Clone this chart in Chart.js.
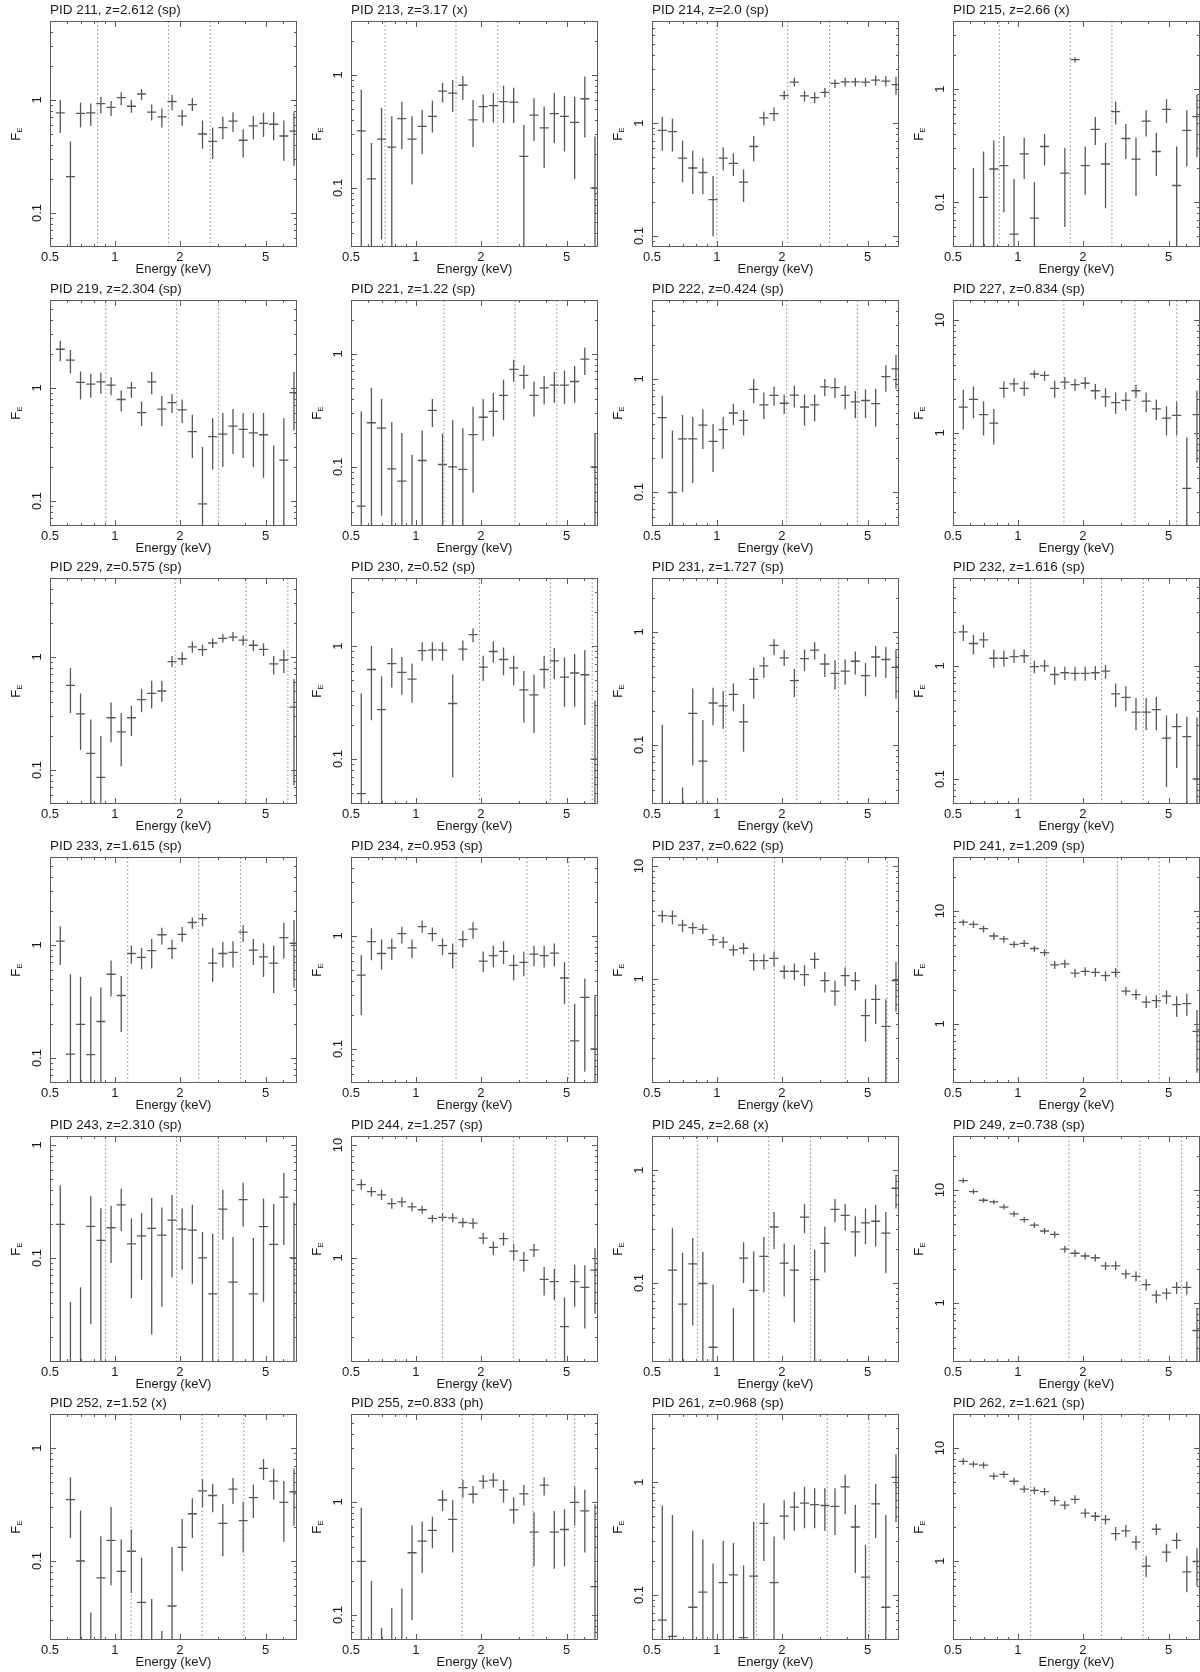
<!DOCTYPE html>
<html>
<head>
<meta charset="utf-8">
<title>X-ray spectra</title>
<script src="https://cdn.jsdelivr.net/npm/chart.js@4.4.0/dist/chart.umd.min.js"></script>
<style>
  body { margin: 0; background: #fff; }
  #grid { position: relative; width: 1200px; height: 1672px; overflow: hidden; }
  #grid canvas { position: absolute; }
</style>
</head>
<body>
<div id="grid"></div>
<script>
// bin centres (keV), shared by every panel
const energies = [0.558, 0.622, 0.693, 0.773, 0.861, 0.960, 1.070, 1.193, 1.330, 1.482, 1.652, 1.842,
  2.053, 2.288, 2.551, 2.843, 3.170, 3.533, 3.938, 4.390, 4.894, 5.455, 6.081, 6.778];
const binHalfWidthDex = 0.021;

const xMin = 0.5, xMax = 7;
const xTickValues = [0.5, 0.6, 0.7, 0.8, 0.9, 1, 2, 3, 4, 5, 6, 7];
const xLabelValues = [0.5, 1, 2, 5];

const pids = [211, 213, 214, 215, 219, 221, 222, 227, 229, 230, 231, 232,
  233, 234, 237, 241, 243, 244, 245, 249, 252, 255, 261, 262];
const redshifts = ['2.612', '3.17', '2.0', '2.66', '2.304', '1.22', '0.424', '0.834', '0.575', '0.52', '1.727', '1.616',
  '1.615', '0.953', '0.622', '1.209', '2.310', '1.257', '2.68', '0.738', '1.52', '0.833', '0.968', '1.621'];
const zMethods = ['sp', 'x', 'sp', 'x', 'sp', 'sp', 'sp', 'sp', 'sp', 'sp', 'sp', 'sp',
  'sp', 'sp', 'sp', 'sp', 'sp', 'sp', 'x', 'sp', 'x', 'ph', 'sp', 'sp'];
const yMins = [0.05, 0.03, 0.08, 0.04, 0.06, 0.03, 0.05, 0.15, 0.05, 0.04, 0.03, 0.06,
  0.06, 0.05, 0.12, 0.3, 0.012, 0.12, 0.02, 0.3, 0.02, 0.06, 0.04, 0.2];
const yMaxs = [5, 3, 8, 4, 6, 3, 5, 15, 5, 4, 3, 6,
  6, 5, 12, 30, 1.2, 12, 2, 30, 2, 6, 4, 20];

// dotted lines: 3, 6.4 and 10 keV in the rest frame
const bandLines = [
  [0.831, 1.772, 2.769], [0.719, 1.535, 2.398], [1.0, 2.133, 3.333], [0.820, 1.749, 2.732],
  [0.908, 1.937, 3.027], [1.351, 2.883, 4.505], [2.107, 4.494, 7.022], [1.636, 3.490, 5.453],
  [1.905, 4.063, 6.349], [1.974, 4.211, 6.579], [1.100, 2.347, 3.667], [1.147, 2.446, 3.823],
  [1.147, 2.447, 3.824], [1.536, 3.277, 5.120], [1.850, 3.946, 6.165], [1.358, 2.897, 4.527],
  [0.906, 1.934, 3.021], [1.329, 2.836, 4.431], [0.815, 1.739, 2.717], [1.726, 3.682, 5.754],
  [1.190, 2.540, 3.968], [1.637, 3.492, 5.456], [1.524, 3.252, 5.081], [1.145, 2.442, 3.815]
];

// F_E per bin: [value, lower, upper]; 0.001 = below the plotted range
const fe211 = [[0.77,0.51,1.0],[0.21,0.001,0.43],[0.76,0.57,0.95],[0.77,0.59,0.93],[0.93,0.76,1.07],[0.86,0.72,0.98],
  [1.05,0.90,1.17],[0.88,0.77,1.0],[1.13,1.0,1.25],[0.78,0.66,0.91],[0.71,0.57,0.84],[0.97,0.81,1.11],
  [0.72,0.59,0.82],[0.91,0.80,1.04],[0.50,0.37,0.66],[0.43,0.30,0.57],[0.57,0.45,0.71],[0.65,0.52,0.78],
  [0.44,0.31,0.55],[0.59,0.45,0.72],[0.62,0.47,0.77],[0.61,0.44,0.78],[0.48,0.29,0.66],[0.53,0.26,0.78]];
const fe213 = [[0.32,0.001,0.74],[0.12,0.001,0.25],[0.27,0.035,0.51],[0.23,0.001,0.43],[0.41,0.22,0.58],[0.27,0.107,0.43],
  [0.35,0.20,0.49],[0.43,0.31,0.59],[0.72,0.57,0.85],[0.69,0.47,0.90],[0.81,0.60,0.98],[0.40,0.23,0.60],
  [0.525,0.38,0.67],[0.535,0.38,0.69],[0.58,0.376,0.80],[0.575,0.376,0.77],[0.19,0.001,0.36],[0.44,0.26,0.62],
  [0.34,0.15,0.525],[0.455,0.25,0.69],[0.43,0.21,0.65],[0.38,0.12,0.64],[0.615,0.28,0.97],[0.1,0.001,0.285]];
const fe214 = [[0.86,0.57,1.13],[0.84,0.56,1.09],[0.49,0.30,0.70],[0.40,0.235,0.57],[0.365,0.235,0.49],[0.21,0.099,0.34],
  [0.49,0.38,0.61],[0.44,0.34,0.54],[0.30,0.20,0.39],[0.62,0.46,0.77],[1.11,0.95,1.26],[1.21,1.04,1.37],
  [1.75,1.60,1.93],[2.30,2.11,2.52],[1.74,1.55,1.93],[1.68,1.50,1.87],[1.87,1.68,2.04],[2.24,2.04,2.43],
  [2.31,2.11,2.52],[2.31,2.11,2.52],[2.30,2.09,2.52],[2.40,2.15,2.64],[2.35,2.11,2.60],[2.19,1.78,2.57]];
const fe215 = [null,[0.001,0.001,0.2],[0.11,0.001,0.28],[0.196,0.001,0.35],[0.21,0.081,0.385],[0.052,0.001,0.16],
  [0.267,0.16,0.37],[0.072,0.001,0.15],[0.31,0.21,0.40],null,[0.18,0.06,0.30],[1.82,1.72,1.91],
  [0.21,0.116,0.31],[0.44,0.32,0.565],[0.217,0.088,0.335],[0.63,0.485,0.77],[0.365,0.24,0.49],[0.24,0.113,0.37],
  [0.52,0.38,0.65],[0.28,0.17,0.41],[0.66,0.50,0.81],[0.14,0.001,0.31],[0.43,0.206,0.65],[0.57,0.25,0.89]];
const fe219 = [[2.2,1.72,2.62],[1.76,1.35,2.17],[1.12,0.79,1.40],[1.08,0.82,1.33],[1.13,0.89,1.36],[1.06,0.86,1.24],
  [0.79,0.62,0.95],[1.0,0.82,1.13],[0.605,0.46,0.76],[1.13,0.88,1.38],[0.65,0.46,0.85],[0.74,0.60,0.88],
  [0.64,0.49,0.79],[0.41,0.24,0.58],[0.094,0.001,0.30],[0.37,0.19,0.54],[0.39,0.20,0.60],[0.46,0.26,0.65],
  [0.43,0.24,0.60],[0.40,0.20,0.60],[0.385,0.16,0.60],[0.001,0.001,0.31],[0.23,0.001,0.54],[0.91,0.42,1.38]];
const fe221 = [[0.045,0.001,0.31],[0.246,0.001,0.50],[0.22,0.037,0.40],[0.096,0.001,0.25],[0.075,0.001,0.20],[0.001,0.001,0.128],
  [0.114,0.001,0.21],[0.316,0.226,0.40],[0.105,0.001,0.197],[0.10,0.001,0.26],[0.095,0.001,0.22],[0.193,0.059,0.34],
  [0.275,0.17,0.40],[0.31,0.186,0.45],[0.43,0.26,0.59],[0.73,0.57,0.89],[0.645,0.49,0.79],[0.43,0.28,0.57],
  [0.50,0.356,0.635],[0.53,0.37,0.69],[0.53,0.36,0.715],[0.57,0.37,0.78],[0.90,0.65,1.14],[0.10,0.001,0.20]];
const fe222 = [[0.455,0.198,0.71],[0.099,0.001,0.35],[0.295,0.10,0.48],[0.295,0.12,0.46],[0.39,0.24,0.54],[0.28,0.15,0.40],
  [0.356,0.24,0.46],[0.50,0.39,0.605],[0.43,0.316,0.53],[0.81,0.61,1.0],[0.59,0.44,0.76],[0.715,0.58,0.86],
  [0.61,0.49,0.73],[0.72,0.56,0.87],[0.565,0.385,0.73],[0.59,0.42,0.73],[0.85,0.705,1.0],[0.84,0.68,1.02],
  [0.715,0.54,0.87],[0.627,0.45,0.78],[0.645,0.45,0.81],[0.605,0.38,0.82],[1.05,0.77,1.32],[1.23,0.82,1.63]];
const fe227 = [[1.69,1.07,2.41],[1.98,1.35,2.58],[1.45,0.95,1.91],[1.22,0.79,1.63],[2.48,2.05,2.85],[2.71,2.31,3.05],
  [2.48,2.12,2.85],[3.32,3.05,3.59],[3.23,2.9,3.51],[2.48,2.05,2.9],[2.81,2.44,3.12],[2.67,2.36,3.0],
  [2.75,2.44,3.12],[2.36,1.98,2.71],[2.08,1.70,2.48],[1.85,1.48,2.28],[1.94,1.58,2.28],[2.36,2.05,2.65],
  [1.91,1.52,2.28],[1.63,1.30,1.98],[1.35,0.95,1.72],[1.43,0.95,1.87],[0.323,0.001,0.91],[1.45,0.545,2.36]];
const fe229 = [null,[0.56,0.32,0.80],[0.314,0.15,0.476],[0.14,0.001,0.28],[0.086,0.001,0.20],[0.29,0.176,0.395],
  [0.217,0.108,0.32],[0.29,0.20,0.37],[0.42,0.325,0.52],[0.476,0.35,0.615],[0.50,0.40,0.615],[0.91,0.81,1.02],
  [0.965,0.85,1.10],[1.23,1.09,1.37],[1.16,1.02,1.28],[1.33,1.20,1.46],[1.46,1.34,1.60],[1.50,1.37,1.66],
  [1.41,1.27,1.55],[1.27,1.13,1.41],[1.17,1.02,1.32],[0.87,0.70,1.02],[0.94,0.72,1.15],[0.36,0.073,0.64]];
const fe230 = [[0.0495,0.001,0.38],[0.62,0.22,1.0],[0.274,0.001,0.54],[0.70,0.43,0.96],[0.585,0.37,0.80],[0.51,0.315,0.70],
  [0.91,0.74,1.08],[0.925,0.74,1.08],[0.92,0.74,1.08],[0.31,0.069,0.56],[0.94,0.74,1.12],[1.26,1.08,1.43],
  [0.65,0.49,0.82],[0.895,0.71,1.10],[0.76,0.55,0.97],[0.64,0.45,0.82],[0.41,0.21,0.60],[0.37,0.17,0.56],
  [0.62,0.42,0.82],[0.74,0.51,0.96],[0.53,0.29,0.79],[0.577,0.29,0.85],[0.557,0.20,0.92],[0.1,0.001,0.33]];
const fe231 = [[0.001,0.001,0.15],null,[0.001,0.001,0.042],[0.19,0.066,0.315],[0.072,0.001,0.166],[0.235,0.149,0.32],
  [0.222,0.139,0.30],[0.28,0.20,0.35],[0.16,0.087,0.23],[0.38,0.256,0.485],[0.50,0.39,0.60],[0.76,0.62,0.86],
  [0.59,0.50,0.69],[0.37,0.265,0.47],[0.58,0.45,0.70],[0.69,0.57,0.81],[0.52,0.40,0.64],[0.43,0.31,0.56],
  [0.45,0.34,0.57],[0.55,0.42,0.67],[0.41,0.27,0.53],[0.60,0.40,0.75],[0.57,0.39,0.74],[0.485,0.256,0.70]];
const fe232 = [[2.0,1.66,2.32],[1.58,1.26,1.88],[1.70,1.45,1.98],[1.17,0.965,1.40],[1.17,0.99,1.37],[1.21,1.06,1.40],
  [1.23,1.06,1.40],[0.985,0.86,1.11],[1.0,0.89,1.13],[0.84,0.68,0.985],[0.87,0.75,0.985],[0.86,0.74,0.985],
  [0.86,0.74,0.985],[0.87,0.75,1.0],[0.90,0.77,1.02],[0.565,0.43,0.70],[0.527,0.40,0.66],[0.39,0.27,0.52],
  [0.39,0.27,0.52],[0.41,0.27,0.53],[0.23,0.085,0.365],[0.29,0.125,0.38],[0.237,0.001,0.355],[0.1,0.001,0.35]];
const fe233 = [[1.08,0.665,1.46],[0.108,0.001,0.55],[0.198,0.001,0.52],[0.107,0.001,0.35],[0.21,0.001,0.42],[0.55,0.35,0.73],
  [0.357,0.17,0.53],[0.84,0.68,0.99],[0.775,0.61,0.94],[0.89,0.62,1.13],[1.23,1.01,1.42],[0.93,0.75,1.11],
  [1.24,1.06,1.44],[1.58,1.39,1.75],[1.71,1.46,1.90],[0.69,0.47,0.94],[0.84,0.63,1.06],[0.86,0.63,1.08],
  [1.30,1.06,1.49],[0.90,0.665,1.13],[0.785,0.52,1.035],[0.69,0.375,0.99],[1.16,0.76,1.57],[1.035,0.42,1.66]];
const fe234 = [[0.45,0.20,0.68],[0.89,0.61,1.17],[0.70,0.505,0.93],[0.785,0.615,0.95],[1.05,0.86,1.21],[0.785,0.636,0.93],
  [1.21,1.07,1.37],[1.05,0.90,1.19],[0.82,0.68,0.95],[0.70,0.516,0.86],[0.93,0.795,1.11],[1.15,0.945,1.32],
  [0.60,0.48,0.73],[0.67,0.53,0.82],[0.73,0.565,0.90],[0.55,0.405,0.68],[0.585,0.44,0.73],[0.69,0.54,0.82],
  [0.67,0.527,0.82],[0.706,0.54,0.86],[0.425,0.25,0.59],[0.118,0.001,0.25],[0.286,0.063,0.42],[0.1,0.001,0.3]];
const fe237 = [[3.64,3.16,4.03],[3.59,3.05,4.03],[2.99,2.60,3.34],[2.85,2.48,3.16],[2.75,2.48,3.05],[2.23,1.97,2.48],
  [2.12,1.87,2.36],[1.81,1.60,2.01],[1.87,1.65,2.08],[1.45,1.19,1.69],[1.45,1.21,1.65],[1.52,1.28,1.75],
  [1.17,1.0,1.32],[1.17,0.98,1.37],[1.09,0.86,1.32],[1.49,1.23,1.71],[0.965,0.76,1.15],[0.78,0.58,0.965],
  [1.07,0.87,1.26],[0.965,0.79,1.15],[0.474,0.279,0.66],[0.66,0.40,0.89],[0.38,0.001,0.66],[0.965,0.515,1.42]];
const fe241 = [[7.95,7.4,8.4],[7.6,7.07,8.1],[6.97,6.45,7.4],[6.0,5.53,6.45],[5.66,5.24,6.0],[5.06,4.71,5.4],
  [5.17,4.8,5.53],[4.65,4.34,4.88],[4.28,3.98,4.58],[3.33,3.06,3.6],[3.4,3.13,3.7],[2.82,2.58,3.06],
  [2.92,2.67,3.17],[2.86,2.61,3.13],[2.67,2.40,2.92],[2.86,2.58,3.13],[1.95,1.78,2.12],[1.82,1.64,2.02],
  [1.56,1.38,1.76],[1.61,1.38,1.79],[1.76,1.50,1.98],[1.48,1.16,1.76],[1.51,1.18,1.85],[0.858,0.37,1.33]];
const fe243 = [[0.198,0.001,0.44],[0.001,0.001,0.041],[0.001,0.001,0.055],[0.19,0.026,0.354],[0.143,0.001,0.275],[0.185,0.09,0.29],
  [0.295,0.173,0.41],[0.133,0.044,0.223],[0.157,0.064,0.25],[0.183,0.021,0.34],[0.159,0.037,0.28],[0.216,0.067,0.36],
  [0.18,0.079,0.275],[0.176,0.059,0.295],[0.10,0.001,0.17],[0.048,0.001,0.164],[0.27,0.145,0.40],[0.061,0.001,0.153],
  [0.328,0.189,0.464],[0.048,0.001,0.15],[0.189,0.041,0.335],[0.132,0.001,0.30],[0.346,0.13,0.565],[0.1,0.001,0.31]];
const fe244 = [[4.46,4.01,4.95],[3.87,3.49,4.24],[3.61,3.25,4.01],[3.03,2.73,3.37],[3.14,2.83,3.44],[2.83,2.58,3.09],
  [2.67,2.46,2.89],[2.24,2.06,2.40],[2.29,2.09,2.50],[2.26,2.06,2.49],[2.06,1.86,2.26],[2.03,1.81,2.24],
  [1.50,1.33,1.67],[1.24,1.06,1.40],[1.48,1.28,1.67],[1.15,0.95,1.33],[0.95,0.76,1.13],[1.18,1.02,1.33],
  [0.647,0.465,0.83],[0.616,0.425,0.80],[0.247,0.001,0.446],[0.616,0.37,0.87],[0.55,0.237,0.86],[0.78,0.32,1.22]];
const fe245 = [null,[0.13,0.001,0.306],[0.065,0.001,0.185],[0.148,0.042,0.25],[0.099,0.001,0.188],[0.027,0.001,0.097],
  null,[0.001,0.001,0.06],[0.166,0.10,0.23],[0.086,0.001,0.19],[0.172,0.083,0.257],[0.313,0.20,0.425],
  [0.15,0.076,0.224],[0.13,0.045,0.217],[0.383,0.276,0.50],[0.107,0.001,0.198],[0.224,0.124,0.317],[0.449,0.345,0.554],
  [0.397,0.29,0.50],[0.283,0.172,0.39],[0.34,0.22,0.456],[0.352,0.21,0.49],[0.276,0.122,0.425],[0.69,0.456,0.91]];
const fe249 = [[12.1,11.5,12.7],[9.66,9.2,10.2],[8.1,7.7,8.5],[7.83,7.45,8.2],[7.05,6.7,7.45],[6.14,5.8,6.5],
  [5.45,5.15,5.75],[4.88,4.6,5.15],[4.33,4.08,4.6],[4.04,3.78,4.3],[2.99,2.78,3.2],[2.75,2.55,2.95],
  [2.6,2.42,2.78],[2.51,2.32,2.7],[2.13,1.95,2.3],[2.13,1.95,2.32],[1.81,1.64,1.98],[1.72,1.55,1.9],
  [1.45,1.29,1.62],[1.17,1.0,1.29],[1.22,1.07,1.35],[1.37,1.2,1.53],[1.37,1.18,1.55],[0.57,0.001,0.90]];
const fe252 = [null,[0.35,0.16,0.55],[0.1,0.001,0.28],[0.001,0.001,0.035],[0.071,0.001,0.166],[0.152,0.061,0.30],
  [0.081,0.001,0.155],[0.122,0.052,0.19],[0.043,0.001,0.107],[0.001,0.001,0.046],[0.001,0.001,0.024],[0.040,0.001,0.133],
  [0.132,0.081,0.236],[0.262,0.16,0.36],[0.418,0.30,0.53],[0.38,0.27,0.48],[0.215,0.11,0.32],[0.433,0.32,0.545],
  [0.228,0.119,0.335],[0.364,0.24,0.475],[0.66,0.52,0.80],[0.51,0.35,0.66],[0.33,0.148,0.51],[0.41,0.205,0.66]];
const fe255 = [[0.298,0.001,0.89],[0.001,0.001,0.2],[0.001,0.001,0.077],[0.001,0.001,0.115],[0.001,0.001,0.171],[0.355,0.09,0.62],
  [0.45,0.235,0.67],[0.56,0.39,0.74],[1.04,0.83,1.27],[0.70,0.357,1.04],[1.34,1.09,1.56],[1.17,0.97,1.38],
  [1.53,1.31,1.73],[1.56,1.34,1.79],[1.28,0.99,1.56],[0.85,0.64,1.10],[1.18,0.93,1.41],[0.54,0.27,0.81],
  [1.41,1.14,1.65],[0.54,0.256,0.83],[0.57,0.27,0.86],[0.99,0.62,1.38],[0.835,0.357,1.28],[0.178,0.001,0.95]];
const fe261 = [[0.060,0.001,0.62],[0.043,0.001,0.51],null,[0.078,0.001,0.37],[0.106,0.001,0.31],[0.001,0.001,0.19],
  [0.129,0.001,0.30],[0.151,0.001,0.288],[0.042,0.001,0.183],[0.147,0.001,0.446],[0.43,0.20,0.65],[0.129,0.001,0.33],
  [0.50,0.31,0.69],[0.60,0.37,0.82],[0.65,0.39,0.91],[0.63,0.39,0.88],[0.62,0.37,0.88],[0.61,0.34,0.88],
  [0.907,0.52,1.16],[0.40,0.157,0.63],[0.144,0.001,0.278],[0.64,0.32,0.96],[0.078,0.001,0.51],[1.10,0.44,1.76]];
const fe262 = [[7.62,7.1,8.1],[7.2,6.75,7.65],[7.05,6.6,7.5],[5.64,5.25,6.05],[5.84,5.45,6.25],[5.08,4.72,5.45],
  [4.33,4.02,4.65],[4.21,3.92,4.52],[4.12,3.82,4.42],[3.42,3.12,3.72],[3.12,2.85,3.42],[3.51,3.22,3.82],
  [2.65,2.42,2.9],[2.49,2.26,2.72],[2.33,2.1,2.56],[1.75,1.52,2.0],[1.85,1.62,2.08],[1.47,1.26,1.67],
  [0.90,0.72,1.1],[1.91,1.70,2.13],[1.2,0.98,1.42],[1.52,1.28,1.78],[0.80,0.53,1.1],[0.99,0.6,1.3]];

const spectra = [fe211, fe213, fe214, fe215, fe219, fe221, fe222, fe227, fe229, fe230, fe231, fe232,
  fe233, fe234, fe237, fe241, fe243, fe244, fe245, fe249, fe252, fe255, fe261, fe262];

// layout
const colLeft = [0, 301, 602, 903];
const cellH = 1672 / 6;
const plotBox = { left: 50, top: 21, width: 247, height: 226 };
const font = '"Liberation Sans", Arial, Helvetica, sans-serif';

function yTicks(min, max) {
  const out = [];
  for (let e = Math.floor(Math.log10(min)); e <= Math.ceil(Math.log10(max)); e++) {
    for (let m = 1; m <= 9; m++) {
      const v = m * Math.pow(10, e);
      if (v > min * 1.0001 && v < max * 0.9999) out.push({ v, e, major: m === 1 });
    }
  }
  return out;
}

// error bars as one broken line: horizontal bin width, then vertical error
function errorBarPoints(spec) {
  const f = Math.pow(10, binHalfWidthDex);
  const pts = [];
  spec.forEach((p, k) => {
    if (!p) return;
    const e = energies[k];
    pts.push({ x: e / f, y: p[0] }, { x: e * f, y: p[0] }, { x: e, y: null });
    pts.push({ x: e, y: p[1] }, { x: e, y: p[2] }, { x: e, y: null });
  });
  return pts;
}

function bandPoints(i) {
  const pts = [];
  bandLines[i].forEach(e => {
    pts.push({ x: e, y: yMins[i] }, { x: e, y: yMaxs[i] }, { x: e, y: null });
  });
  return pts;
}

const framePlugin = {
  id: 'frame',
  afterDatasetsDraw(chart) {
    const i = chart.options.plugins.frame.panel;
    const { ctx, chartArea: a, scales: { x, y } } = chart;
    ctx.save();
    ctx.strokeStyle = '#5c5c5c';
    ctx.lineWidth = 1;
    ctx.strokeRect(a.left + 0.5, a.top + 0.5, a.width - 1, a.height - 1);

    ctx.beginPath();
    xTickValues.forEach(v => {
      if (v <= xMin || v >= xMax) return;
      const px = Math.round(x.getPixelForValue(v)) + 0.5;
      const len = xLabelValues.includes(v) ? 6 : 3;
      ctx.moveTo(px, a.bottom); ctx.lineTo(px, a.bottom - len);
      ctx.moveTo(px, a.top); ctx.lineTo(px, a.top + len);
    });
    const ticks = yTicks(yMins[i], yMaxs[i]);
    ticks.forEach(t => {
      const py = Math.round(y.getPixelForValue(t.v)) + 0.5;
      const len = t.major ? 6 : 3;
      ctx.moveTo(a.left, py); ctx.lineTo(a.left + len, py);
      ctx.moveTo(a.right, py); ctx.lineTo(a.right - len, py);
    });
    ctx.stroke();

    ctx.fillStyle = '#1a1a1a';
    ctx.font = '13px ' + font;
    ctx.textAlign = 'center';
    ctx.textBaseline = 'middle';
    xLabelValues.forEach(v => ctx.fillText(String(v), x.getPixelForValue(v), a.bottom + 10));
    ctx.fillText('Energy (keV)', (a.left + a.right) / 2, a.bottom + 22);

    ticks.filter(t => t.major).forEach(t => {
      const label = t.e >= 0 ? String(Math.round(t.v)) : t.v.toFixed(-t.e);
      ctx.save();
      ctx.translate(a.left - 13, y.getPixelForValue(t.v));
      ctx.rotate(-Math.PI / 2);
      ctx.fillText(label, 0, 0);
      ctx.restore();
    });

    // F_E axis label
    ctx.save();
    ctx.translate(a.left - 34, (a.top + a.bottom) / 2);
    ctx.rotate(-Math.PI / 2);
    ctx.textAlign = 'left';
    ctx.font = '13px ' + font;
    const wF = ctx.measureText('F').width;
    ctx.font = '8px ' + font;
    const wE = ctx.measureText('E').width;
    const start = -(wF + wE) / 2;
    ctx.font = '13px ' + font;
    ctx.fillText('F', start, 0);
    ctx.font = '8px ' + font;
    ctx.fillText('E', start + wF, 4);
    ctx.restore();

    ctx.textAlign = 'left';
    ctx.font = '13.5px ' + font;
    ctx.fillText('PID ' + pids[i] + ', z=' + redshifts[i] + ' (' + zMethods[i] + ')', a.left, 10);
    ctx.restore();
  }
};

const grid = document.getElementById('grid');
pids.forEach((pid, i) => {
  const r = Math.floor(i / 4), c = i % 4;
  const top = Math.round(r * cellH);
  const h = Math.round((r + 1) * cellH) - top;
  const w = (c === 3 ? 1200 : colLeft[c + 1]) - colLeft[c];
  const canvas = document.createElement('canvas');
  canvas.width = w;
  canvas.height = h;
  canvas.style.left = colLeft[c] + 'px';
  canvas.style.top = top + 'px';
  canvas.style.width = w + 'px';
  canvas.style.height = h + 'px';
  grid.appendChild(canvas);

  new Chart(canvas, {
    type: 'scatter',
    data: {
      datasets: [
        {
          data: bandPoints(i),
          showLine: true, spanGaps: false,
          borderColor: '#8a8a8a', borderWidth: 1, borderDash: [1.5, 2.5],
          pointRadius: 0
        },
        {
          data: errorBarPoints(spectra[i]),
          showLine: true, spanGaps: false,
          borderColor: '#575757', borderWidth: 1.3,
          pointRadius: 0
        }
      ]
    },
    options: {
      responsive: false,
      animation: false,
      devicePixelRatio: 1,
      layout: {
        padding: {
          left: plotBox.left, top: plotBox.top,
          right: w - plotBox.left - plotBox.width,
          bottom: h - plotBox.top - plotBox.height
        }
      },
      scales: {
        x: { type: 'logarithmic', display: false, min: xMin, max: xMax },
        y: { type: 'logarithmic', display: false, min: yMins[i], max: yMaxs[i] }
      },
      plugins: {
        legend: { display: false },
        tooltip: { enabled: false },
        frame: { panel: i }
      }
    },
    plugins: [framePlugin]
  });
});
</script>
</body>
</html>
